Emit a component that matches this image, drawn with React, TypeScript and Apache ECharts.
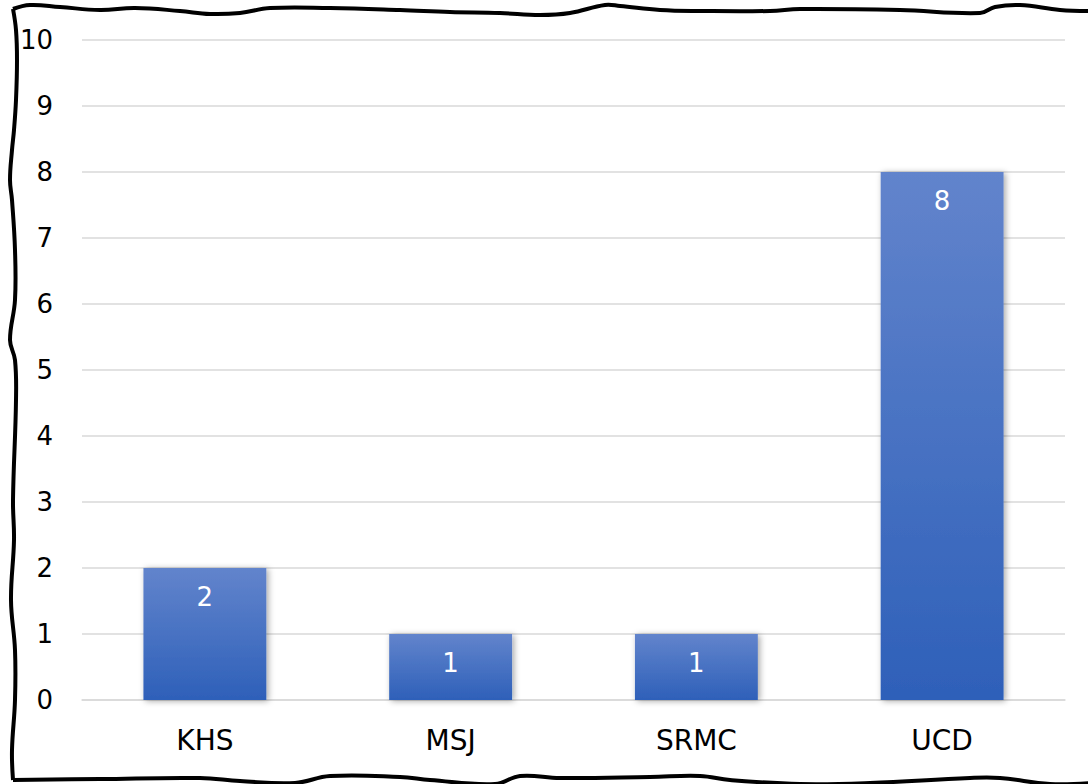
import React, { useEffect, useRef } from "react";
import * as echarts from "echarts";

const categories = ["KHS", "MSJ", "SRMC", "UCD"];
const values = [2, 1, 1, 8];
const yTicks = [0, 1, 2, 3, 4, 5, 6, 7, 8, 9, 10];

const topEdge: number[][] = [
  [13, 9], [30, 5], [60, 7], [100, 10], [135, 8], [180, 11], [210, 14], [240, 13], [270, 8],
  [330, 8], [400, 10], [450, 12], [500, 13], [540, 15], [570, 13], [605, 5], [620, 6],
  [660, 10], [700, 11], [770, 11], [800, 9], [900, 10], [980, 13], [995, 7], [1020, 5],
  [1060, 10], [1090, 11],
];
const leftEdge: number[][] = [
  [13, 9], [16, 30], [17, 60], [16, 100], [14, 130], [12, 150], [10, 180], [12, 200],
  [15, 250], [15, 300], [10, 340], [15, 360], [16, 400], [13, 500], [14, 540], [11, 600],
  [15, 650], [15, 700], [12, 750], [13, 780],
];
const bottomEdge: number[][] = [
  [13, 780], [100, 779], [200, 778], [240, 781], [295, 783], [330, 776], [400, 777],
  [430, 780], [495, 784], [520, 776], [560, 778], [650, 777], [700, 776], [730, 780],
  [800, 784], [870, 783], [970, 778], [1000, 778], [1050, 784], [1090, 783],
];

export default function App() {
  const ref = useRef<HTMLDivElement>(null);
  useEffect(() => {
    if (!ref.current) return;
    const chart = echarts.init(ref.current, undefined, { renderer: "svg" });
    const font = "DejaVu Sans";
    const edgeStyle = { stroke: "#000", lineWidth: 4, fill: null };
    chart.setOption({
      animation: false,
      backgroundColor: "#fff",
      textStyle: { fontFamily: font },
      grid: { left: 82, right: 23, top: 40, bottom: 84 },
      xAxis: {
        type: "category",
        data: categories,
        axisLine: { lineStyle: { color: "#d9d9d9", width: 1.5 } },
        axisTick: { show: false },
        axisLabel: { color: "#000", fontSize: 28, margin: 26, fontFamily: font },
      },
      yAxis: {
        type: "value",
        min: yTicks[0],
        max: yTicks[yTicks.length - 1],
        interval: 1,
        axisLine: { show: false },
        axisTick: { show: false },
        splitLine: { lineStyle: { color: "#d9d9d9", width: 1.5 } },
        axisLabel: { color: "#000", fontSize: 26, margin: 29, fontFamily: font },
      },
      series: [
        {
          type: "bar",
          data: values,
          barWidth: "50%",
          itemStyle: {
            color: new echarts.graphic.LinearGradient(0, 0, 0, 1, [
              { offset: 0, color: "#6284CC" },
              { offset: 1, color: "#2E60B9" },
            ]),
            shadowColor: "rgba(0,0,0,0.35)",
            shadowBlur: 6,
            shadowOffsetX: 2,
            shadowOffsetY: 1,
          },
          label: {
            show: true,
            position: "insideTop",
            distance: 16,
            color: "#fff",
            fontSize: 26,
            fontFamily: font,
          },
        },
      ],
      graphic: [
        { type: "polyline", shape: { points: topEdge, smooth: 0.4 }, style: edgeStyle, z: 100 },
        { type: "polyline", shape: { points: leftEdge, smooth: 0.4 }, style: edgeStyle, z: 100 },
        { type: "polyline", shape: { points: bottomEdge, smooth: 0.4 }, style: edgeStyle, z: 100 },
      ],
    });
    return () => chart.dispose();
  }, []);
  return (
    <div
      ref={ref}
      style={{ position: "fixed", left: 0, top: 0, width: 1088, height: 784 }}
    />
  );
}
